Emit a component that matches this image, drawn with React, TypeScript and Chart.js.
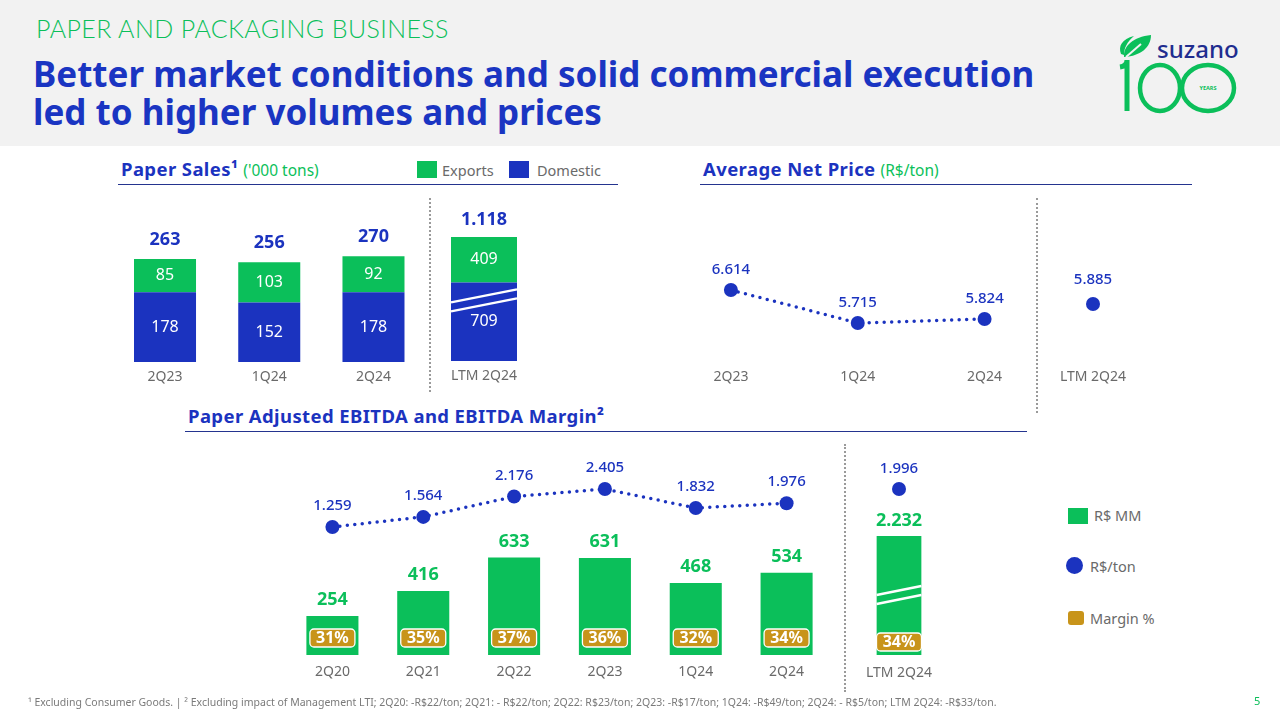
import React, { useEffect, useRef } from "react";
import { Chart, registerables } from "chart.js";
Chart.register(...registerables);

// ---------------- data ----------------
const salesQuarters = ["2Q23", "1Q24", "2Q24"];
const salesExports = [85, 103, 92];
const salesDomestic = [178, 152, 178];
const salesTotals = [263, 256, 270];
const salesLtmLabel = ["LTM 2Q24"];
const salesLtmExports = [409];
const salesLtmDomestic = [709];
const salesLtmTotal = [1118];

const priceQuarters = ["2Q23", "1Q24", "2Q24"];
const priceValues = [6614, 5715, 5824];
const priceLtmLabel = ["LTM 2Q24"];
const priceLtmValue = [5885];

const ebitdaQuarters = ["2Q20", "2Q21", "2Q22", "2Q23", "1Q24", "2Q24"];
const ebitdaValues = [254, 416, 633, 631, 468, 534];
const ebitdaPerTon = [1259, 1564, 2176, 2405, 1832, 1976];
const ebitdaMargin = [31, 35, 37, 36, 32, 34];
const ebitdaLtmLabel = ["LTM 2Q24"];
const ebitdaLtmValue = [2232];
const ebitdaLtmPerTon = [1996];
const ebitdaLtmMargin = [34];

// ---------------- style ----------------
const FONT = "'Noto Sans', 'Open Sans', sans-serif";
const BLUE = "#1b33bf";
const GREEN = "#0bbf5a";
const GOLD = "#c8941a";
const GRAY = "#6a6a6a";
const TICK_SIZE = 14;

const fmt = (n: number) =>
  n >= 1000 ? `${Math.floor(n / 1000)}.${String(n % 1000).padStart(3, "0")}` : String(n);

function textAt(ctx: CanvasRenderingContext2D, text: string, x: number, y: number, font: string, color: string) {
  ctx.save();
  ctx.font = font;
  ctx.fillStyle = color;
  ctx.textAlign = "center";
  ctx.textBaseline = "middle";
  ctx.fillText(text, x, y);
  ctx.restore();
}

const baseOptions = (padding: any) => ({
  responsive: false,
  maintainAspectRatio: false,
  animation: false,
  events: [],
  layout: { padding },
  plugins: { legend: { display: false }, tooltip: { enabled: false } },
});

const xAxis = (tickPad: number, stacked = false) => ({
  type: "category",
  offset: true,
  stacked,
  grid: { display: false, drawTicks: false },
  border: { display: false },
  ticks: { color: GRAY, padding: tickPad, maxRotation: 0, autoSkip: false, font: { family: FONT, size: TICK_SIZE } },
});

const hiddenY = (min: number, max: number, stacked = false) => ({ display: false, min, max, stacked });

// ---------------- plugins ----------------
const stackLabels = (totals: number[], gap: number) => ({
  id: "stackLabels",
  afterDatasetsDraw(chart: any) {
    const ctx = chart.ctx;
    chart.data.datasets.forEach((ds: any, di: number) => {
      chart.getDatasetMeta(di).data.forEach((el: any, i: number) => {
        textAt(ctx, fmt(ds.data[i]), el.x, (el.y + el.base) / 2, `16px ${FONT}`, "#ffffff");
      });
    });
    const top = chart.getDatasetMeta(chart.data.datasets.length - 1).data;
    top.forEach((el: any, i: number) => textAt(ctx, fmt(totals[i]), el.x, el.y - gap, `bold 18px ${FONT}`, BLUE));
  },
});

const breakMark = (dsIndex: number, ends: (el: any) => [number, number], gap: number) => ({
  id: "breakMark",
  afterDatasetsDraw(chart: any) {
    const ctx = chart.ctx;
    chart.getDatasetMeta(dsIndex).data.forEach((el: any) => {
      const [ly, ry] = ends(el);
      const half = el.width / 2;
      ctx.save();
      ctx.strokeStyle = "#ffffff";
      ctx.lineWidth = 2.5;
      for (const off of [0, gap]) {
        ctx.beginPath();
        ctx.moveTo(el.x - half, ly + off);
        ctx.lineTo(el.x + half, ry + off);
        ctx.stroke();
      }
      ctx.restore();
    });
  },
});

const pointLabels = (dsIndex: number, gap: number) => ({
  id: "pointLabels",
  afterDatasetsDraw(chart: any) {
    const ds = chart.data.datasets[dsIndex];
    chart.getDatasetMeta(dsIndex).data.forEach((el: any, i: number) => {
      textAt(chart.ctx, fmt(ds.data[i]), el.x, el.y - gap, `500 15px ${FONT}`, BLUE);
    });
  },
});

const ebitdaLabels = (barDs: number, margins: number[], barGap: number, boxGap: number) => ({
  id: "ebitdaLabels",
  afterDatasetsDraw(chart: any) {
    const ctx = chart.ctx;
    const ds = chart.data.datasets[barDs];
    chart.getDatasetMeta(barDs).data.forEach((el: any, i: number) => {
      textAt(ctx, fmt(ds.data[i]), el.x, el.y - barGap, `bold 18px ${FONT}`, GREEN);
      const bw = 45;
      const bh = 18;
      const bx = el.x - bw / 2;
      const by = el.base - boxGap - bh;
      ctx.save();
      ctx.beginPath();
      ctx.roundRect(bx, by, bw, bh, 4);
      ctx.fillStyle = GOLD;
      ctx.fill();
      ctx.lineWidth = 1.3;
      ctx.strokeStyle = "#ffffff";
      ctx.stroke();
      ctx.restore();
      textAt(ctx, `${margins[i]}%`, el.x, by + bh / 2 + 0.5, `bold 16px ${FONT}`, "#ffffff");
    });
  },
});

const dottedLine = {
  borderColor: BLUE,
  borderWidth: 3.5,
  borderDash: [0, 7.5],
  borderCapStyle: "round",
  pointRadius: 7,
  pointBackgroundColor: BLUE,
  pointBorderWidth: 0,
  tension: 0,
};

// ---------------- chart box ----------------
type Box = { x: number; y: number; w: number; h: number };

function ChartBox({ canvas, area, tickPad, make }: { canvas: Box; area: Box; tickPad: number; make: (p: any) => any }) {
  const ref = useRef<HTMLCanvasElement | null>(null);
  useEffect(() => {
    if (!ref.current) return;
    const axisH = TICK_SIZE * 1.2 + tickPad * 2;
    const padding = {
      left: area.x - canvas.x,
      top: area.y - canvas.y,
      right: canvas.x + canvas.w - (area.x + area.w),
      bottom: canvas.y + canvas.h - (area.y + area.h) - axisH,
    };
    const chart = new Chart(ref.current, make(padding));
    return () => chart.destroy();
  }, []);
  return (
    <canvas
      ref={ref}
      width={canvas.w}
      height={canvas.h}
      style={{ position: "absolute", left: canvas.x, top: canvas.y, width: canvas.w, height: canvas.h }}
    />
  );
}

// ---------------- chart configs ----------------
const salesQuarterConfig = (padding: any) => ({
  type: "bar",
  data: {
    labels: salesQuarters,
    datasets: [
      { label: "Domestic", data: salesDomestic, backgroundColor: BLUE, barPercentage: 0.595, categoryPercentage: 1 },
      { label: "Exports", data: salesExports, backgroundColor: GREEN, barPercentage: 0.595, categoryPercentage: 1 },
    ],
  },
  options: { ...baseOptions(padding), scales: { x: xAxis(7, true), y: hiddenY(0, 414, true) } },
  plugins: [stackLabels(salesTotals, 19)],
});

const salesLtmConfig = (padding: any) => ({
  type: "bar",
  data: {
    labels: salesLtmLabel,
    datasets: [
      { label: "Domestic", data: salesLtmDomestic, backgroundColor: BLUE, barPercentage: 0.66, categoryPercentage: 1 },
      { label: "Exports", data: salesLtmExports, backgroundColor: GREEN, barPercentage: 0.66, categoryPercentage: 1 },
    ],
  },
  options: { ...baseOptions(padding), scales: { x: xAxis(7, true), y: hiddenY(0, 1452, true) } },
  plugins: [breakMark(0, (el: any) => [el.y + 20, el.y + 7], 9), stackLabels(salesLtmTotal, 17)],
});

const priceQuarterConfig = (padding: any) => ({
  type: "line",
  data: { labels: priceQuarters, datasets: [{ label: "R$/ton", data: priceValues, ...dottedLine }] },
  options: { ...baseOptions(padding), scales: { x: xAxis(7), y: hiddenY(4652, 9066) } },
  plugins: [pointLabels(0, 20)],
});

const priceLtmConfig = (padding: any) => ({
  type: "line",
  data: { labels: priceLtmLabel, datasets: [{ label: "R$/ton", data: priceLtmValue, ...dottedLine, showLine: false }] },
  options: { ...baseOptions(padding), scales: { x: xAxis(7), y: hiddenY(4652, 8096) } },
  plugins: [pointLabels(0, 24)],
});

const ebitdaQuarterConfig = (padding: any) => ({
  type: "bar",
  data: {
    labels: ebitdaQuarters,
    datasets: [
      { type: "line", label: "R$/ton", data: ebitdaPerTon, yAxisID: "y1", order: 0, ...dottedLine },
      { type: "bar", label: "R$ MM", data: ebitdaValues, yAxisID: "y", order: 1, backgroundColor: GREEN, barPercentage: 0.573, categoryPercentage: 1 },
    ],
  },
  options: { ...baseOptions(padding), scales: { x: xAxis(9), y: hiddenY(0, 1300), y1: hiddenY(-2596, 3428) } },
  plugins: [ebitdaLabels(1, ebitdaMargin, 16, 8), pointLabels(0, 21)],
});

const ebitdaLtmConfig = (padding: any) => ({
  type: "bar",
  data: {
    labels: ebitdaLtmLabel,
    datasets: [
      { type: "line", label: "R$/ton", data: ebitdaLtmPerTon, yAxisID: "y1", order: 0, ...dottedLine, showLine: false },
      { type: "bar", label: "R$ MM", data: ebitdaLtmValue, yAxisID: "y", order: 1, backgroundColor: GREEN, barPercentage: 0.52, categoryPercentage: 1 },
    ],
  },
  options: { ...baseOptions(padding), scales: { x: xAxis(10), y: hiddenY(0, 3751), y1: hiddenY(0, 2405) } },
  plugins: [breakMark(1, (el: any) => [el.base - 60, el.base - 69], 9), ebitdaLabels(1, ebitdaLtmMargin, 15, 4), pointLabels(0, 20)],
});

// ---------------- layout pieces ----------------
const abs = (s: React.CSSProperties): React.CSSProperties => ({ position: "absolute", whiteSpace: "nowrap", ...s });

function Logo() {
  return (
    <svg style={abs({ left: 1110, top: 28, width: 140, height: 92 })} viewBox="1110 28 140 92">
      <path d="M1124,57 C1123,46 1133,37 1151,35 C1151,47 1141,56 1124,57 Z" fill={GREEN} />
      <path d="M1121,54 C1118,46 1122,39 1134,36 C1127,42 1124,48 1124,55 Z" fill={GREEN} />
      <path d="M1126,57 L1141,44" stroke="#f2f2f2" strokeWidth={2} />
      <text x={1157} y={58} fontFamily={FONT} fontSize={24} fontWeight={500} fill="#1f2d8f">suzano</text>
      <path d="M1120,67 Q1127,66 1127,60 L1127,111" stroke={GREEN} strokeWidth={5} fill="none" />
      <ellipse cx={1160} cy={88} rx={20} ry={23} stroke={GREEN} strokeWidth={4.5} fill="none" />
      <ellipse cx={1208} cy={88} rx={26} ry={23} stroke={GREEN} strokeWidth={4.5} fill="none" />
      <text x={1208} y={90} fontFamily={FONT} fontSize={5.5} fontWeight={700} fill={GREEN} textAnchor="middle">YEARS</text>
    </svg>
  );
}

function SectionTitle({ x, y, title, unit, lineW }: { x: number; y: number; title: string; unit?: string; lineW: number }) {
  return (
    <>
      <div style={abs({ left: x + 3, top: y - 14, height: 26, lineHeight: "26px", fontFamily: FONT, fontSize: 18.5, fontWeight: 700, color: BLUE, letterSpacing: 0.4 })}>
        {title}
        {unit ? <span style={{ fontWeight: 400, fontSize: 15.5, color: GREEN, marginLeft: 5, letterSpacing: 0 }}>{unit}</span> : null}
      </div>
      <div style={abs({ left: x, top: y + 14, width: lineW, height: 1.3, background: "#24348f" })} />
    </>
  );
}

const legendText: React.CSSProperties = { fontFamily: FONT, fontSize: 14.5, color: GRAY, lineHeight: "20px", height: 20 };

export default function App() {
  return (
    <div style={{ position: "fixed", left: 0, top: 0, width: 1280, height: 720, background: "#ffffff", overflow: "hidden", fontFamily: FONT }}>
      {/* header */}
      <div style={abs({ left: 0, top: 0, width: 1280, height: 146, background: "#f2f2f2" })} />
      <div style={abs({ left: 36, top: 13, fontSize: 25, lineHeight: "30px", fontWeight: 300, color: GREEN, letterSpacing: 0.4, fontFamily: "Lato, 'Noto Sans', sans-serif" })}>
        PAPER AND PACKAGING BUSINESS
      </div>
      <div style={abs({ left: 33, top: 55, fontSize: 35, lineHeight: "38px", fontWeight: 700, color: "#1a35c2", whiteSpace: "normal", width: 1070 })}>
        Better market conditions and solid commercial execution
        <br />
        led to higher volumes and prices
      </div>
      <Logo />

      {/* section titles */}
      <SectionTitle x={118} y={170} title="Paper Sales¹" unit="('000 tons)" lineW={500} />
      <div style={abs({ left: 417, top: 161, width: 20, height: 17, background: GREEN })} />
      <div style={abs({ left: 442, top: 160, ...legendText })}>Exports</div>
      <div style={abs({ left: 509, top: 161, width: 20, height: 17, background: BLUE })} />
      <div style={abs({ left: 537, top: 160, ...legendText })}>Domestic</div>

      <SectionTitle x={700} y={170} title="Average Net Price" unit="(R$/ton)" lineW={492} />
      <SectionTitle x={185} y={417} title="Paper Adjusted EBITDA and EBITDA Margin²" lineW={842} />

      {/* dividers */}
      <div style={abs({ left: 429, top: 198, width: 0, height: 194, borderLeft: "2px dotted #9a9a9a" })} />
      <div style={abs({ left: 1036, top: 198, width: 0, height: 215, borderLeft: "2px dotted #9a9a9a" })} />
      <div style={abs({ left: 844, top: 444, width: 0, height: 248, borderLeft: "2px dotted #9a9a9a" })} />

      {/* charts */}
      <ChartBox canvas={{ x: 100, y: 190, w: 330, h: 215 }} area={{ x: 112.9, y: 200, w: 312.7, h: 162 }} tickPad={7} make={salesQuarterConfig} />
      <ChartBox canvas={{ x: 434, y: 190, w: 100, h: 215 }} area={{ x: 434, y: 200, w: 100, h: 161 }} tickPad={7} make={salesLtmConfig} />
      <ChartBox canvas={{ x: 660, y: 190, w: 395, h: 215 }} area={{ x: 667.5, y: 200, w: 381, h: 162 }} tickPad={7} make={priceQuarterConfig} />
      <ChartBox canvas={{ x: 1043, y: 190, w: 100, h: 215 }} area={{ x: 1043, y: 200, w: 100, h: 162 }} tickPad={7} make={priceLtmConfig} />
      <ChartBox canvas={{ x: 270, y: 440, w: 572, h: 260 }} area={{ x: 287, y: 455, w: 545, h: 200 }} tickPad={9} make={ebitdaQuarterConfig} />
      <ChartBox canvas={{ x: 849, y: 440, w: 100, h: 260 }} area={{ x: 849, y: 455, w: 100, h: 200 }} tickPad={10} make={ebitdaLtmConfig} />

      {/* EBITDA legend */}
      <div style={abs({ left: 1068, top: 508, width: 20, height: 16, background: GREEN })} />
      <div style={abs({ left: 1094, top: 505, ...legendText })}>R$ MM</div>
      <div style={abs({ left: 1066, top: 557, width: 17, height: 17, borderRadius: "50%", background: BLUE })} />
      <div style={abs({ left: 1090, top: 556, ...legendText })}>R$/ton</div>
      <div style={abs({ left: 1068, top: 611, width: 16, height: 14, borderRadius: 3, background: GOLD })} />
      <div style={abs({ left: 1090, top: 608, ...legendText })}>Margin %</div>

      {/* footnote */}
      <div style={abs({ left: 28, top: 695, fontSize: 10.5, lineHeight: "14px", color: "#7a7a7a" })}>
        ¹ Excluding Consumer Goods. | ² Excluding impact of Management LTI; 2Q20: -R$22/ton; 2Q21: - R$22/ton; 2Q22: R$23/ton; 2Q23: -R$17/ton; 1Q24: -R$49/ton; 2Q24: - R$5/ton; LTM 2Q24: -R$33/ton.
      </div>
      <div style={abs({ left: 1254, top: 694, fontSize: 11, lineHeight: "14px", color: GREEN })}>5</div>
    </div>
  );
}
